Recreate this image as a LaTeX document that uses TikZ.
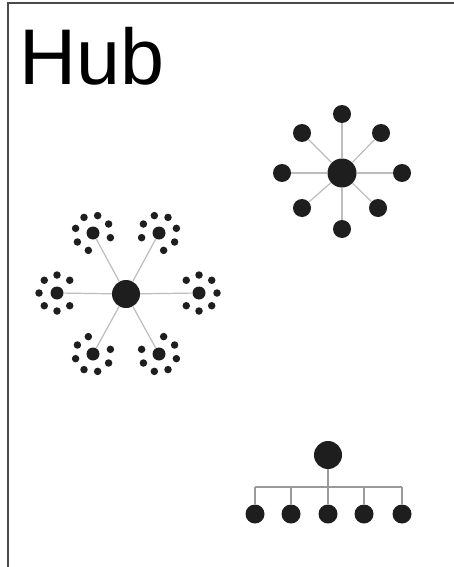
\documentclass[tikz,border=0pt]{standalone}
\usepackage{fontspec}
\setmainfont{Liberation Sans}
\usetikzlibrary{calc}
\definecolor{dotc}{HTML}{1E1E1E}
\definecolor{linec}{HTML}{BDBDBD}
\definecolor{treec}{HTML}{9A9A9A}
\definecolor{framec}{HTML}{4A4A4A}
\tikzset{
  dot/.style={circle, fill=dotc, draw=none, inner sep=0pt, minimum size=#1},
  link/.style={draw=linec, line width=1.2pt},
  treelink/.style={draw=treec, line width=1.2pt},
  frameline/.style={draw=framec, line width=1.6pt},
}
\begin{document}
\begin{tikzpicture}[x=1pt,y=-1pt]
\useasboundingbox (0,0) rectangle (454,567);
\fill[white] (0,0) rectangle (454,567);
\draw[frameline] (8,567) -- (8,3) -- (454,3);

\node[anchor=base west, inner sep=0pt, font=\fontsize{79}{79}\selectfont] (title) at (19,85) {Hub};

% ---------- left hub with satellites ----------
\node[dot=28pt] (h) at (126,294) {};
\foreach \n/\x/\y/\d in {sa/93/233/-60, sb/159/233/240, sc/57/293/0, sd/199/293/180, se/93/354/60, sf/159/354/120}{
  \node[dot=13pt] (\n) at (\x,\y) {};
  \draw[link] (h) -- (\n);
  \foreach \k in {1,...,7}{
    \node[dot=7.5pt] (\n-\k) at ($(\n)+(\d+45*\k:18pt)$) {};
  }
}

% ---------- star ----------
\node[dot=29pt] (s) at (342,173) {};
\foreach \n/\x/\y in {t1/342/114, t2/302/133, t3/381/133, t4/282/173, t5/402/173, t6/302/208, t7/378/208, t8/342/229}{
  \node[dot=18pt] (\n) at (\x,\y) {};
  \draw[link] (s) -- (\n);
}

% ---------- tree ----------
\node[dot=28pt] (r) at (328,455) {};
\coordinate (busL) at (255,487);
\coordinate (busR) at (402,487);
\draw[treelink] (busL) -- (busR);
\draw[treelink] (r) -- (r |- busL);
\foreach \n/\x in {l1/255, l2/291, l3/328, l4/364, l5/402}{
  \node[dot=19pt] (\n) at (\x,514) {};
  \draw[treelink] (\n) -- (\n |- busL);
}
\end{tikzpicture}
\end{document}
